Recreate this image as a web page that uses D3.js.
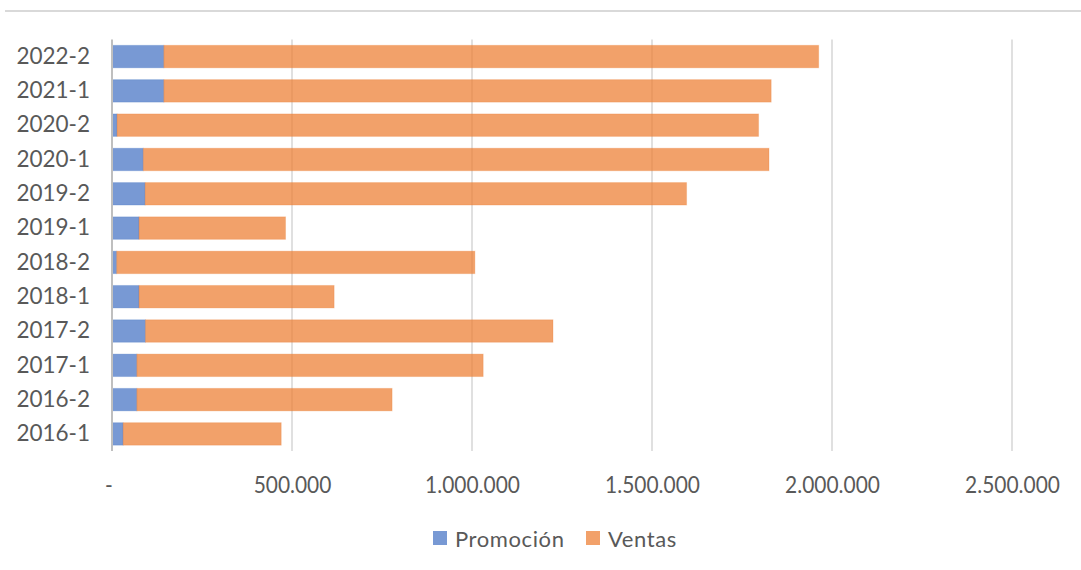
<!DOCTYPE html>
<html>
<head>
<meta charset="utf-8">
<script src="https://cdn.jsdelivr.net/npm/d3@7"></script>
<style>
  html, body { margin: 0; padding: 0; background: #fff; }
  svg { display: block; font-family: Lato, "Open Sans", sans-serif; }
</style>
</head>
<body>
<svg id="chart" width="1081" height="570"></svg>
<script>
// Semesters, oldest first (drawn bottom to top)
const categories = ["2016-1", "2016-2", "2017-1", "2017-2", "2018-1", "2018-2",
                    "2019-1", "2019-2", "2020-1", "2020-2", "2021-1", "2022-2"];
const promocion = [31000, 69000, 69000, 93000, 75000, 13000,
                   75000, 92000, 87000, 14000, 144000, 144000];
const ventas = [439000, 709000, 962000, 1132000, 542000, 995000,
                407000, 1504000, 1738000, 1782000, 1687000, 1819000];
const tickValues = [0, 500000, 1000000, 1500000, 2000000, 2500000];
const seriesNames = ["Promoción", "Ventas"];
const seriesColors = ["#4472C4", "#ED7D31"];

const svg = d3.select("#chart");
const plot = { left: 112, right: 1012, top: 39.5, bottom: 451 };

const x = d3.scaleLinear().domain([0, 2500000]).range([plot.left, plot.right]);
const y = d3.scaleBand()
  .domain(categories.slice().reverse())
  .range([plot.top, plot.bottom])
  .paddingInner(0.345)
  .paddingOuter(0.17);

// Frame line at the top of the chart area
svg.append("line")
  .attr("x1", 5).attr("x2", 1081).attr("y1", 11).attr("y2", 11)
  .attr("stroke", "#d9d9d9").attr("stroke-width", 2);

// Vertical gridlines
svg.append("g")
  .selectAll("line")
  .data(tickValues.slice(1))
  .join("line")
  .attr("x1", d => x(d)).attr("x2", d => x(d))
  .attr("y1", plot.top).attr("y2", plot.bottom)
  .attr("stroke", "#d9d9d9").attr("stroke-width", 1.6);

// Stacked bars
const rows = categories.map((c, i) => ({ cat: c, values: [promocion[i], ventas[i]] }));
const stack = d3.stack().keys([0, 1]).value((d, k) => d.values[k]);
const layers = stack(rows);

svg.append("g")
  .selectAll("g")
  .data(layers)
  .join("g")
  .attr("fill", (d, i) => seriesColors[i])
  .attr("fill-opacity", 0.72)
  .attr("stroke", (d, i) => seriesColors[i])
  .attr("stroke-opacity", 0.25)
  .attr("stroke-width", 1)
  .selectAll("rect")
  .data(d => d)
  .join("rect")
  .attr("x", d => x(d[0]))
  .attr("width", d => x(d[1]) - x(d[0]))
  .attr("y", d => y(d.data.cat))
  .attr("height", y.bandwidth());

// Category axis line
svg.append("line")
  .attr("x1", plot.left).attr("x2", plot.left)
  .attr("y1", plot.top).attr("y2", plot.bottom)
  .attr("stroke", "#bfbfbf").attr("stroke-width", 2);

// Category labels
const yAxis = svg.append("g")
  .attr("transform", `translate(${plot.left},0)`)
  .call(d3.axisLeft(y).tickSize(0).tickPadding(22));
yAxis.select(".domain").remove();
yAxis.selectAll("text")
  .attr("font-family", "Lato, sans-serif")
  .attr("font-size", 22.5)
  .attr("fill", "#595959");

// Value labels
const fmt = d => d === 0 ? "-" : d3.format(",")(d).replace(/,/g, ".");
const xAxis = svg.append("g")
  .attr("transform", `translate(0,${plot.bottom})`)
  .call(d3.axisBottom(x).tickValues(tickValues).tickFormat(fmt).tickSize(0).tickPadding(26));
xAxis.select(".domain").remove();
xAxis.selectAll("text")
  .attr("font-family", "Lato, sans-serif")
  .attr("font-size", 23)
  .attr("fill", "#595959")
  .attr("transform", "scale(0.91,1)");
xAxis.selectAll(".tick").filter(d => d === 0).select("text").attr("dx", -4);

// Legend
const legendItems = [
  { name: seriesNames[0], color: seriesColors[0], x: 433 },
  { name: seriesNames[1], color: seriesColors[1], x: 586 }
];
const legend = svg.append("g");
legendItems.forEach(item => {
  legend.append("rect")
    .attr("x", item.x).attr("y", 531)
    .attr("width", 14).attr("height", 14)
    .attr("fill", item.color).attr("fill-opacity", 0.72);
  legend.append("text")
    .attr("x", item.x + 22).attr("y", 547)
    .attr("font-family", "Lato, sans-serif")
    .attr("font-size", 22)
    .attr("letter-spacing", 0.6)
    .attr("fill", "#595959")
    .text(item.name);
});
</script>
</body>
</html>
